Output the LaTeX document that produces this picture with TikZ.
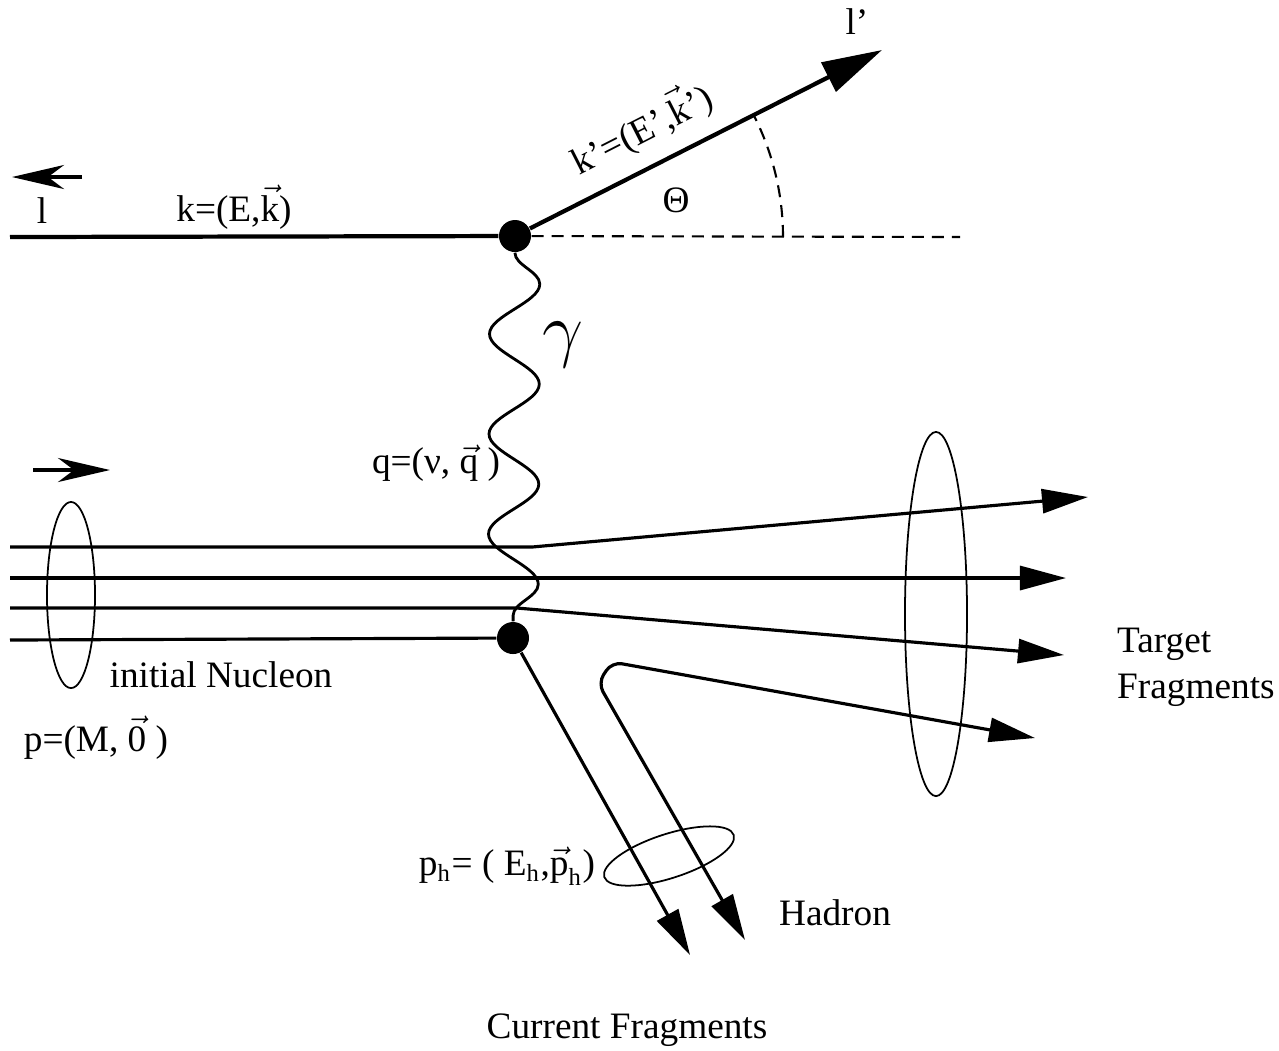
\documentclass[tikz,border=0pt]{standalone}
\usepackage{fontspec}
\setmainfont{Liberation Serif}
\usepackage{tikz}
\usetikzlibrary{arrows.meta,decorations.pathmorphing,calc}

\begin{document}
\begin{tikzpicture}[x=0.01cm,y=-0.01cm,
  vertex/.style={circle,fill=black,minimum size=3.2mm,inner sep=0pt},
  lepton/.style={line width=1.2pt},
  parton/.style={line width=0.9pt},
  grand/.style={-{Triangle[length=4.6mm,width=2.4mm]}},
  petit/.style={-{Stealth[length=5.2mm,width=2.4mm,inset=1.6mm]}},
  photon/.style={line width=0.8pt,decorate,decoration={snake,amplitude=2.5mm,segment length=1cm}},
  bulle/.style={line width=0.5pt},
  lbl/.style={font=\fontsize{10.6}{13}\selectfont,inner sep=1pt}]
  \useasboundingbox (0,0) rectangle (1279,1050);
  \node[vertex] (vk) at (515,236) {};
  \node[vertex] (vp) at (513,638) {};
  \coordinate (lin) at (10,237);   \coordinate (lout) at (882,50);
  \coordinate (horiz) at (960,237);
  \coordinate (t1) at (1088,497);  \coordinate (t2) at (1066,578);
  \coordinate (t3) at (1064,655);  \coordinate (t4) at (1035,738);
  \coordinate (h1) at (690,955);   \coordinate (h2) at (745,940);
  \draw[lepton] (lin) -- (vk);
  \draw[lepton,-{Triangle[length=6mm,width=3.2mm]}] (vk) -- (lout);
  \draw[line width=0.6pt,dash pattern=on 1.2mm off 0.8mm] (vk) -- (horiz);
  \draw[line width=0.6pt,dash pattern=on 1.2mm off 0.8mm] (783,237) arc[start angle=0,end angle=-27,radius=268];
  \draw[photon] (vk) -- (vp);
  \foreach \y/\b/\t in {547/532/t1,578/700/t2,608/517/t3}
    \draw[parton,grand] (10,\y) -- (\b,\y) -- (\t);
  \draw[parton] (10,640) -- (vp);
  \draw[parton,grand] (vp) -- (h1);
  \draw[parton,{Triangle[length=4.6mm,width=2.4mm]}-{Triangle[length=4.6mm,width=2.4mm]},rounded corners=1mm]
    (t4) -- (640,667) -- (612,662) -- (598,683) -- (h2);
  \draw[line width=1pt,petit] (82,177) -- (12,177);
  \draw[line width=1pt,petit] (33,470) -- (110,470);
  \draw[bulle] (71,595) ellipse [x radius=2.4mm,y radius=9.3mm];
  \draw[bulle] (936,614) ellipse [x radius=3.1mm,y radius=18.2mm];
  \draw[bulle,rotate around={18:(669,856)}] (669,856) ellipse [x radius=6.8mm,y radius=2.2mm];
  \node[lbl] (l) at (42,211) {l};
  \node[lbl] (kin) at (234,207) {k=(E,$\vec{\hbox{k}}$)};
  \node[lbl] (lp) at (857,22) {l’};
  \node[lbl,rotate=27] (kout) at (641,128) {k’=(E’,$\vec{\hbox{k}}$’)};
  \node[lbl] (theta) at (676,200) {Θ};
  \node[font=\fontsize{21}{25}\selectfont] (gam) at (563,345) {$\gamma$};
  \node[lbl] (q) at (436,463) {q=(ν, $\vec{\hbox{q}}$ )};
  \node[lbl] (nuc) at (221,675) {initial Nucleon};
  \node[lbl] (p) at (96,738) {p=(M, $\vec{\hbox{0}}$ )};
  \node[lbl] (ph) at (507,866) {p$_{\hbox{\scriptsize h}}$= ( E$_{\hbox{\scriptsize h}}$,$\vec{\hbox{p}}_{\hbox{\scriptsize h}}$)};
  \node[lbl] (had) at (835,913) {Hadron};
  \node[lbl,anchor=west,align=left] (tf) at (1113,667) {Target\\Fragments};
  \node[lbl] (cf) at (627,1030) {Current Fragments};
\end{tikzpicture}
\end{document}
